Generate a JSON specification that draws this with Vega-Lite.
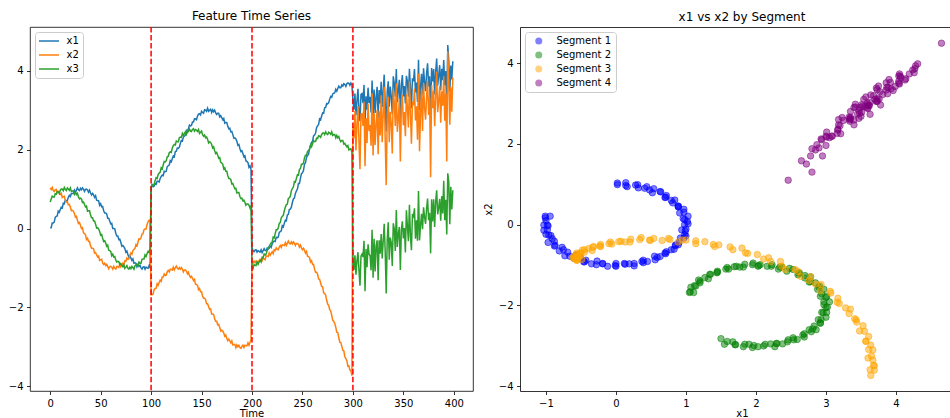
{
"$schema": "https://vega.github.io/schema/vega-lite/v6.json",
"padding": {"left": 7, "top": 9, "right": 0, "bottom": 0},
"background": "white",
"bounds": "flush",
"spacing": 47,
"resolve": {"scale": {"color": "independent"}, "legend": {"color": "independent"}},
"config": {
  "font": "DejaVu Sans",
  "view": {"stroke": "black", "strokeWidth": 0.8},
  "axis": {"domain": false, "domainColor": "black", "domainWidth": 0.8, "grid": false, "tickColor": "black", "tickWidth": 0.8, "tickSize": 3.5, "labelPadding": 3.5, "labelFont": "DejaVu Sans", "labelFontSize": 10, "labelColor": "black", "titleFont": "DejaVu Sans", "titleFontSize": 10, "titleFontWeight": "normal", "titleColor": "black", "labelFlush": false, "labelOverlap": false},
  "title": {"font": "DejaVu Sans", "fontSize": 12, "fontWeight": "normal", "color": "black", "offset": 3, "anchor": "middle", "frame": "group"},
  "legend": {"labelFont": "DejaVu Sans", "labelFontSize": 10, "labelColor": "black", "padding": 4, "rowPadding": 4, "strokeColor": "#cccccc", "fillColor": "rgba(255,255,255,0.8)", "cornerRadius": 3, "orient": "top-left", "offset": 5}
},
"datasets": {
"cp": [{"cp": 100}, {"cp": 200}, {"cp": 300}],
"ts": [
{"t":0,"x1":0.02,"x2":1.03,"x3":0.67,"seg":"Segment 1"},
{"t":1,"x1":0.02,"x2":0.99,"x3":0.75,"seg":"Segment 1"},
{"t":2,"x1":0.14,"x2":1.04,"x3":0.82,"seg":"Segment 1"},
{"t":3,"x1":0.14,"x2":0.97,"x3":0.80,"seg":"Segment 1"},
{"t":4,"x1":0.16,"x2":0.94,"x3":0.80,"seg":"Segment 1"},
{"t":5,"x1":0.28,"x2":0.98,"x3":0.88,"seg":"Segment 1"},
{"t":6,"x1":0.31,"x2":0.99,"x3":0.87,"seg":"Segment 1"},
{"t":7,"x1":0.32,"x2":0.91,"x3":0.94,"seg":"Segment 1"},
{"t":8,"x1":0.44,"x2":0.94,"x3":0.93,"seg":"Segment 1"},
{"t":9,"x1":0.41,"x2":0.90,"x3":0.89,"seg":"Segment 1"},
{"t":10,"x1":0.48,"x2":0.86,"x3":0.97,"seg":"Segment 1"},
{"t":11,"x1":0.54,"x2":0.89,"x3":1.00,"seg":"Segment 1"},
{"t":12,"x1":0.52,"x2":0.79,"x3":1.00,"seg":"Segment 1"},
{"t":13,"x1":0.64,"x2":0.81,"x3":0.96,"seg":"Segment 1"},
{"t":14,"x1":0.63,"x2":0.82,"x3":1.04,"seg":"Segment 1"},
{"t":15,"x1":0.72,"x2":0.72,"x3":0.99,"seg":"Segment 1"},
{"t":16,"x1":0.70,"x2":0.67,"x3":0.96,"seg":"Segment 1"},
{"t":17,"x1":0.71,"x2":0.68,"x3":1.03,"seg":"Segment 1"},
{"t":18,"x1":0.79,"x2":0.60,"x3":1.00,"seg":"Segment 1"},
{"t":19,"x1":0.84,"x2":0.61,"x3":0.97,"seg":"Segment 1"},
{"t":20,"x1":0.81,"x2":0.54,"x3":1.03,"seg":"Segment 1"},
{"t":21,"x1":0.89,"x2":0.45,"x3":0.94,"seg":"Segment 1"},
{"t":22,"x1":0.89,"x2":0.46,"x3":0.95,"seg":"Segment 1"},
{"t":23,"x1":0.89,"x2":0.44,"x3":0.95,"seg":"Segment 1"},
{"t":24,"x1":0.97,"x2":0.38,"x3":0.87,"seg":"Segment 1"},
{"t":25,"x1":0.91,"x2":0.29,"x3":0.92,"seg":"Segment 1"},
{"t":26,"x1":0.97,"x2":0.31,"x3":0.86,"seg":"Segment 1"},
{"t":27,"x1":1.03,"x2":0.21,"x3":0.89,"seg":"Segment 1"},
{"t":28,"x1":0.98,"x2":0.13,"x3":0.80,"seg":"Segment 1"},
{"t":29,"x1":0.96,"x2":0.15,"x3":0.75,"seg":"Segment 1"},
{"t":30,"x1":1.02,"x2":0.08,"x3":0.77,"seg":"Segment 1"},
{"t":31,"x1":0.98,"x2":0.00,"x3":0.75,"seg":"Segment 1"},
{"t":32,"x1":1.03,"x2":0.02,"x3":0.66,"seg":"Segment 1"},
{"t":33,"x1":1.00,"x2":-0.11,"x3":0.67,"seg":"Segment 1"},
{"t":34,"x1":0.94,"x2":-0.13,"x3":0.61,"seg":"Segment 1"},
{"t":35,"x1":0.99,"x2":-0.16,"x3":0.55,"seg":"Segment 1"},
{"t":36,"x1":1.00,"x2":-0.28,"x3":0.57,"seg":"Segment 1"},
{"t":37,"x1":0.98,"x2":-0.25,"x3":0.44,"seg":"Segment 1"},
{"t":38,"x1":0.92,"x2":-0.33,"x3":0.45,"seg":"Segment 1"},
{"t":39,"x1":0.97,"x2":-0.33,"x3":0.45,"seg":"Segment 1"},
{"t":40,"x1":0.90,"x2":-0.44,"x3":0.34,"seg":"Segment 1"},
{"t":41,"x1":0.85,"x2":-0.50,"x3":0.27,"seg":"Segment 1"},
{"t":42,"x1":0.89,"x2":-0.50,"x3":0.27,"seg":"Segment 1"},
{"t":43,"x1":0.85,"x2":-0.52,"x3":0.19,"seg":"Segment 1"},
{"t":44,"x1":0.79,"x2":-0.62,"x3":0.19,"seg":"Segment 1"},
{"t":45,"x1":0.83,"x2":-0.61,"x3":0.11,"seg":"Segment 1"},
{"t":46,"x1":0.72,"x2":-0.67,"x3":0.01,"seg":"Segment 1"},
{"t":47,"x1":0.71,"x2":-0.72,"x3":0.02,"seg":"Segment 1"},
{"t":48,"x1":0.70,"x2":-0.70,"x3":-0.01,"seg":"Segment 1"},
{"t":49,"x1":0.59,"x2":-0.81,"x3":-0.07,"seg":"Segment 1"},
{"t":50,"x1":0.63,"x2":-0.79,"x3":-0.17,"seg":"Segment 1"},
{"t":51,"x1":0.55,"x2":-0.78,"x3":-0.15,"seg":"Segment 1"},
{"t":52,"x1":0.56,"x2":-0.87,"x3":-0.25,"seg":"Segment 1"},
{"t":53,"x1":0.45,"x2":-0.91,"x3":-0.33,"seg":"Segment 1"},
{"t":54,"x1":0.39,"x2":-0.88,"x3":-0.31,"seg":"Segment 1"},
{"t":55,"x1":0.39,"x2":-0.94,"x3":-0.37,"seg":"Segment 1"},
{"t":56,"x1":0.37,"x2":-0.91,"x3":-0.45,"seg":"Segment 1"},
{"t":57,"x1":0.26,"x2":-0.96,"x3":-0.42,"seg":"Segment 1"},
{"t":58,"x1":0.26,"x2":-1.02,"x3":-0.55,"seg":"Segment 1"},
{"t":59,"x1":0.19,"x2":-0.97,"x3":-0.56,"seg":"Segment 1"},
{"t":60,"x1":0.12,"x2":-0.96,"x3":-0.58,"seg":"Segment 1"},
{"t":61,"x1":0.13,"x2":-0.98,"x3":-0.69,"seg":"Segment 1"},
{"t":62,"x1":0.00,"x2":-1.03,"x3":-0.65,"seg":"Segment 1"},
{"t":63,"x1":0.00,"x2":-0.96,"x3":-0.72,"seg":"Segment 1"},
{"t":64,"x1":-0.01,"x2":-1.01,"x3":-0.71,"seg":"Segment 1"},
{"t":65,"x1":-0.12,"x2":-1.03,"x3":-0.80,"seg":"Segment 1"},
{"t":66,"x1":-0.19,"x2":-0.96,"x3":-0.85,"seg":"Segment 1"},
{"t":67,"x1":-0.19,"x2":-0.97,"x3":-0.83,"seg":"Segment 1"},
{"t":68,"x1":-0.28,"x2":-0.99,"x3":-0.84,"seg":"Segment 1"},
{"t":69,"x1":-0.27,"x2":-0.90,"x3":-0.92,"seg":"Segment 1"},
{"t":70,"x1":-0.35,"x2":-0.97,"x3":-0.89,"seg":"Segment 1"},
{"t":71,"x1":-0.45,"x2":-0.92,"x3":-0.93,"seg":"Segment 1"},
{"t":72,"x1":-0.43,"x2":-0.88,"x3":-0.97,"seg":"Segment 1"},
{"t":73,"x1":-0.46,"x2":-0.92,"x3":-0.92,"seg":"Segment 1"},
{"t":74,"x1":-0.51,"x2":-0.82,"x3":-1.01,"seg":"Segment 1"},
{"t":75,"x1":-0.60,"x2":-0.83,"x3":-0.98,"seg":"Segment 1"},
{"t":76,"x1":-0.57,"x2":-0.75,"x3":-0.94,"seg":"Segment 1"},
{"t":77,"x1":-0.66,"x2":-0.78,"x3":-1.01,"seg":"Segment 1"},
{"t":78,"x1":-0.73,"x2":-0.77,"x3":-1.03,"seg":"Segment 1"},
{"t":79,"x1":-0.69,"x2":-0.68,"x3":-0.98,"seg":"Segment 1"},
{"t":80,"x1":-0.75,"x2":-0.62,"x3":-1.02,"seg":"Segment 1"},
{"t":81,"x1":-0.81,"x2":-0.65,"x3":-0.96,"seg":"Segment 1"},
{"t":82,"x1":-0.77,"x2":-0.56,"x3":-0.99,"seg":"Segment 1"},
{"t":83,"x1":-0.88,"x2":-0.53,"x3":-1.03,"seg":"Segment 1"},
{"t":84,"x1":-0.87,"x2":-0.51,"x3":-0.95,"seg":"Segment 1"},
{"t":85,"x1":-0.88,"x2":-0.41,"x3":-0.92,"seg":"Segment 1"},
{"t":86,"x1":-0.97,"x2":-0.44,"x3":-0.91,"seg":"Segment 1"},
{"t":87,"x1":-0.91,"x2":-0.35,"x3":-0.94,"seg":"Segment 1"},
{"t":88,"x1":-0.96,"x2":-0.26,"x3":-0.85,"seg":"Segment 1"},
{"t":89,"x1":-0.93,"x2":-0.27,"x3":-0.88,"seg":"Segment 1"},
{"t":90,"x1":-1.00,"x2":-0.24,"x3":-0.88,"seg":"Segment 1"},
{"t":91,"x1":-1.03,"x2":-0.14,"x3":-0.78,"seg":"Segment 1"},
{"t":92,"x1":-0.98,"x2":-0.13,"x3":-0.77,"seg":"Segment 1"},
{"t":93,"x1":-0.97,"x2":-0.03,"x3":-0.77,"seg":"Segment 1"},
{"t":94,"x1":-1.03,"x2":-0.01,"x3":-0.67,"seg":"Segment 1"},
{"t":95,"x1":-0.98,"x2":-0.01,"x3":-0.71,"seg":"Segment 1"},
{"t":96,"x1":-1.00,"x2":0.10,"x3":-0.64,"seg":"Segment 1"},
{"t":97,"x1":-1.01,"x2":0.17,"x3":-0.58,"seg":"Segment 1"},
{"t":98,"x1":-0.94,"x2":0.21,"x3":-0.61,"seg":"Segment 1"},
{"t":99,"x1":-1.01,"x2":0.21,"x3":-0.49,"seg":"Segment 1"},
{"t":100,"x1":1.05,"x2":-1.68,"x3":1.01,"seg":"Segment 2"},
{"t":101,"x1":1.11,"x2":-1.68,"x3":1.11,"seg":"Segment 2"},
{"t":102,"x1":1.06,"x2":-1.66,"x3":1.09,"seg":"Segment 2"},
{"t":103,"x1":1.07,"x2":-1.55,"x3":1.12,"seg":"Segment 2"},
{"t":104,"x1":1.14,"x2":-1.52,"x3":1.22,"seg":"Segment 2"},
{"t":105,"x1":1.12,"x2":-1.51,"x3":1.29,"seg":"Segment 2"},
{"t":106,"x1":1.20,"x2":-1.40,"x3":1.27,"seg":"Segment 2"},
{"t":107,"x1":1.20,"x2":-1.44,"x3":1.37,"seg":"Segment 2"},
{"t":108,"x1":1.18,"x2":-1.37,"x3":1.40,"seg":"Segment 2"},
{"t":109,"x1":1.27,"x2":-1.31,"x3":1.43,"seg":"Segment 2"},
{"t":110,"x1":1.32,"x2":-1.34,"x3":1.54,"seg":"Segment 2"},
{"t":111,"x1":1.35,"x2":-1.23,"x3":1.51,"seg":"Segment 2"},
{"t":112,"x1":1.34,"x2":-1.23,"x3":1.61,"seg":"Segment 2"},
{"t":113,"x1":1.45,"x2":-1.15,"x3":1.70,"seg":"Segment 2"},
{"t":114,"x1":1.44,"x2":-1.19,"x3":1.69,"seg":"Segment 2"},
{"t":115,"x1":1.45,"x2":-1.18,"x3":1.72,"seg":"Segment 2"},
{"t":116,"x1":1.57,"x2":-1.10,"x3":1.82,"seg":"Segment 2"},
{"t":117,"x1":1.59,"x2":-1.06,"x3":1.83,"seg":"Segment 2"},
{"t":118,"x1":1.61,"x2":-1.10,"x3":1.92,"seg":"Segment 2"},
{"t":119,"x1":1.72,"x2":-1.03,"x3":1.94,"seg":"Segment 2"},
{"t":120,"x1":1.69,"x2":-1.04,"x3":1.93,"seg":"Segment 2"},
{"t":121,"x1":1.77,"x2":-1.05,"x3":2.04,"seg":"Segment 2"},
{"t":122,"x1":1.84,"x2":-0.98,"x3":2.10,"seg":"Segment 2"},
{"t":123,"x1":1.82,"x2":-1.05,"x3":2.13,"seg":"Segment 2"},
{"t":124,"x1":1.95,"x2":-0.99,"x3":2.12,"seg":"Segment 2"},
{"t":125,"x1":1.96,"x2":-0.95,"x3":2.22,"seg":"Segment 2"},
{"t":126,"x1":2.04,"x2":-1.01,"x3":2.20,"seg":"Segment 2"},
{"t":127,"x1":2.03,"x2":-1.03,"x3":2.20,"seg":"Segment 2"},
{"t":128,"x1":2.06,"x2":-0.99,"x3":2.30,"seg":"Segment 2"},
{"t":129,"x1":2.16,"x2":-1.03,"x3":2.32,"seg":"Segment 2"},
{"t":130,"x1":2.23,"x2":-0.99,"x3":2.31,"seg":"Segment 2"},
{"t":131,"x1":2.22,"x2":-1.03,"x3":2.41,"seg":"Segment 2"},
{"t":132,"x1":2.32,"x2":-1.10,"x3":2.36,"seg":"Segment 2"},
{"t":133,"x1":2.34,"x2":-1.05,"x3":2.41,"seg":"Segment 2"},
{"t":134,"x1":2.37,"x2":-1.05,"x3":2.45,"seg":"Segment 2"},
{"t":135,"x1":2.48,"x2":-1.08,"x3":2.39,"seg":"Segment 2"},
{"t":136,"x1":2.44,"x2":-1.15,"x3":2.49,"seg":"Segment 2"},
{"t":137,"x1":2.53,"x2":-1.11,"x3":2.46,"seg":"Segment 2"},
{"t":138,"x1":2.62,"x2":-1.19,"x3":2.52,"seg":"Segment 2"},
{"t":139,"x1":2.60,"x2":-1.24,"x3":2.47,"seg":"Segment 2"},
{"t":140,"x1":2.61,"x2":-1.21,"x3":2.46,"seg":"Segment 2"},
{"t":141,"x1":2.70,"x2":-1.26,"x3":2.51,"seg":"Segment 2"},
{"t":142,"x1":2.70,"x2":-1.32,"x3":2.53,"seg":"Segment 2"},
{"t":143,"x1":2.78,"x2":-1.29,"x3":2.47,"seg":"Segment 2"},
{"t":144,"x1":2.78,"x2":-1.41,"x3":2.51,"seg":"Segment 2"},
{"t":145,"x1":2.76,"x2":-1.42,"x3":2.49,"seg":"Segment 2"},
{"t":146,"x1":2.85,"x2":-1.44,"x3":2.46,"seg":"Segment 2"},
{"t":147,"x1":2.90,"x2":-1.55,"x3":2.51,"seg":"Segment 2"},
{"t":148,"x1":2.91,"x2":-1.52,"x3":2.41,"seg":"Segment 2"},
{"t":149,"x1":2.88,"x2":-1.60,"x3":2.44,"seg":"Segment 2"},
{"t":150,"x1":2.97,"x2":-1.60,"x3":2.47,"seg":"Segment 2"},
{"t":151,"x1":2.94,"x2":-1.71,"x3":2.38,"seg":"Segment 2"},
{"t":152,"x1":2.92,"x2":-1.77,"x3":2.34,"seg":"Segment 2"},
{"t":153,"x1":3.01,"x2":-1.77,"x3":2.37,"seg":"Segment 2"},
{"t":154,"x1":3.00,"x2":-1.80,"x3":2.30,"seg":"Segment 2"},
{"t":155,"x1":2.97,"x2":-1.91,"x3":2.32,"seg":"Segment 2"},
{"t":156,"x1":3.05,"x2":-1.91,"x3":2.26,"seg":"Segment 2"},
{"t":157,"x1":2.97,"x2":-1.98,"x3":2.17,"seg":"Segment 2"},
{"t":158,"x1":3.00,"x2":-2.05,"x3":2.20,"seg":"Segment 2"},
{"t":159,"x1":3.02,"x2":-2.04,"x3":2.18,"seg":"Segment 2"},
{"t":160,"x1":2.94,"x2":-2.17,"x3":2.13,"seg":"Segment 2"},
{"t":161,"x1":3.01,"x2":-2.17,"x3":2.04,"seg":"Segment 2"},
{"t":162,"x1":2.96,"x2":-2.18,"x3":2.07,"seg":"Segment 2"},
{"t":163,"x1":3.00,"x2":-2.29,"x3":1.97,"seg":"Segment 2"},
{"t":164,"x1":2.93,"x2":-2.35,"x3":1.90,"seg":"Segment 2"},
{"t":165,"x1":2.89,"x2":-2.35,"x3":1.93,"seg":"Segment 2"},
{"t":166,"x1":2.92,"x2":-2.44,"x3":1.86,"seg":"Segment 2"},
{"t":167,"x1":2.92,"x2":-2.43,"x3":1.78,"seg":"Segment 2"},
{"t":168,"x1":2.83,"x2":-2.51,"x3":1.80,"seg":"Segment 2"},
{"t":169,"x1":2.86,"x2":-2.60,"x3":1.68,"seg":"Segment 2"},
{"t":170,"x1":2.81,"x2":-2.58,"x3":1.66,"seg":"Segment 2"},
{"t":171,"x1":2.76,"x2":-2.60,"x3":1.63,"seg":"Segment 2"},
{"t":172,"x1":2.79,"x2":-2.65,"x3":1.51,"seg":"Segment 2"},
{"t":173,"x1":2.67,"x2":-2.73,"x3":1.54,"seg":"Segment 2"},
{"t":174,"x1":2.69,"x2":-2.70,"x3":1.45,"seg":"Segment 2"},
{"t":175,"x1":2.69,"x2":-2.78,"x3":1.45,"seg":"Segment 2"},
{"t":176,"x1":2.59,"x2":-2.84,"x3":1.34,"seg":"Segment 2"},
{"t":177,"x1":2.53,"x2":-2.80,"x3":1.27,"seg":"Segment 2"},
{"t":178,"x1":2.54,"x2":-2.85,"x3":1.27,"seg":"Segment 2"},
{"t":179,"x1":2.45,"x2":-2.90,"x3":1.24,"seg":"Segment 2"},
{"t":180,"x1":2.46,"x2":-2.85,"x3":1.13,"seg":"Segment 2"},
{"t":181,"x1":2.38,"x2":-2.95,"x3":1.14,"seg":"Segment 2"},
{"t":182,"x1":2.29,"x2":-2.94,"x3":1.07,"seg":"Segment 2"},
{"t":183,"x1":2.30,"x2":-2.94,"x3":1.01,"seg":"Segment 2"},
{"t":184,"x1":2.27,"x2":-3.02,"x3":1.02,"seg":"Segment 2"},
{"t":185,"x1":2.21,"x2":-2.95,"x3":0.90,"seg":"Segment 2"},
{"t":186,"x1":2.11,"x2":-3.00,"x3":0.91,"seg":"Segment 2"},
{"t":187,"x1":2.13,"x2":-2.96,"x3":0.91,"seg":"Segment 2"},
{"t":188,"x1":2.03,"x2":-3.02,"x3":0.81,"seg":"Segment 2"},
{"t":189,"x1":1.95,"x2":-3.04,"x3":0.76,"seg":"Segment 2"},
{"t":190,"x1":1.97,"x2":-2.99,"x3":0.77,"seg":"Segment 2"},
{"t":191,"x1":1.90,"x2":-2.96,"x3":0.70,"seg":"Segment 2"},
{"t":192,"x1":1.82,"x2":-3.02,"x3":0.72,"seg":"Segment 2"},
{"t":193,"x1":1.84,"x2":-2.96,"x3":0.66,"seg":"Segment 2"},
{"t":194,"x1":1.71,"x2":-2.97,"x3":0.59,"seg":"Segment 2"},
{"t":195,"x1":1.70,"x2":-2.97,"x3":0.62,"seg":"Segment 2"},
{"t":196,"x1":1.67,"x2":-2.90,"x3":0.62,"seg":"Segment 2"},
{"t":197,"x1":1.55,"x2":-2.96,"x3":0.59,"seg":"Segment 2"},
{"t":198,"x1":1.59,"x2":-2.89,"x3":0.52,"seg":"Segment 2"},
{"t":199,"x1":1.50,"x2":-2.82,"x3":0.58,"seg":"Segment 2"},
{"t":200,"x1":-0.49,"x2":-0.86,"x3":-0.98,"seg":"Segment 3"},
{"t":201,"x1":-0.56,"x2":-0.88,"x3":-1.01,"seg":"Segment 3"},
{"t":202,"x1":-0.59,"x2":-0.83,"x3":-0.92,"seg":"Segment 3"},
{"t":203,"x1":-0.55,"x2":-0.87,"x3":-0.93,"seg":"Segment 3"},
{"t":204,"x1":-0.54,"x2":-0.82,"x3":-0.94,"seg":"Segment 3"},
{"t":205,"x1":-0.60,"x2":-0.84,"x3":-0.85,"seg":"Segment 3"},
{"t":206,"x1":-0.56,"x2":-0.88,"x3":-0.91,"seg":"Segment 3"},
{"t":207,"x1":-0.58,"x2":-0.81,"x3":-0.85,"seg":"Segment 3"},
{"t":208,"x1":-0.60,"x2":-0.78,"x3":-0.81,"seg":"Segment 3"},
{"t":209,"x1":-0.54,"x2":-0.78,"x3":-0.85,"seg":"Segment 3"},
{"t":210,"x1":-0.61,"x2":-0.82,"x3":-0.73,"seg":"Segment 3"},
{"t":211,"x1":-0.56,"x2":-0.74,"x3":-0.74,"seg":"Segment 3"},
{"t":212,"x1":-0.51,"x2":-0.77,"x3":-0.65,"seg":"Segment 3"},
{"t":213,"x1":-0.56,"x2":-0.79,"x3":-0.67,"seg":"Segment 3"},
{"t":214,"x1":-0.56,"x2":-0.70,"x3":-0.65,"seg":"Segment 3"},
{"t":215,"x1":-0.50,"x2":-0.70,"x3":-0.56,"seg":"Segment 3"},
{"t":216,"x1":-0.52,"x2":-0.71,"x3":-0.49,"seg":"Segment 3"},
{"t":217,"x1":-0.45,"x2":-0.62,"x3":-0.50,"seg":"Segment 3"},
{"t":218,"x1":-0.45,"x2":-0.68,"x3":-0.40,"seg":"Segment 3"},
{"t":219,"x1":-0.48,"x2":-0.63,"x3":-0.37,"seg":"Segment 3"},
{"t":220,"x1":-0.39,"x2":-0.59,"x3":-0.34,"seg":"Segment 3"},
{"t":221,"x1":-0.34,"x2":-0.64,"x3":-0.22,"seg":"Segment 3"},
{"t":222,"x1":-0.32,"x2":-0.54,"x3":-0.24,"seg":"Segment 3"},
{"t":223,"x1":-0.33,"x2":-0.56,"x3":-0.13,"seg":"Segment 3"},
{"t":224,"x1":-0.22,"x2":-0.49,"x3":-0.03,"seg":"Segment 3"},
{"t":225,"x1":-0.23,"x2":-0.53,"x3":-0.03,"seg":"Segment 3"},
{"t":226,"x1":-0.22,"x2":-0.54,"x3":0.01,"seg":"Segment 3"},
{"t":227,"x1":-0.10,"x2":-0.47,"x3":0.13,"seg":"Segment 3"},
{"t":228,"x1":-0.08,"x2":-0.43,"x3":0.15,"seg":"Segment 3"},
{"t":229,"x1":-0.06,"x2":-0.48,"x3":0.27,"seg":"Segment 3"},
{"t":230,"x1":0.07,"x2":-0.41,"x3":0.31,"seg":"Segment 3"},
{"t":231,"x1":0.04,"x2":-0.42,"x3":0.33,"seg":"Segment 3"},
{"t":232,"x1":0.13,"x2":-0.43,"x3":0.45,"seg":"Segment 3"},
{"t":233,"x1":0.21,"x2":-0.36,"x3":0.54,"seg":"Segment 3"},
{"t":234,"x1":0.20,"x2":-0.43,"x3":0.60,"seg":"Segment 3"},
{"t":235,"x1":0.34,"x2":-0.37,"x3":0.62,"seg":"Segment 3"},
{"t":236,"x1":0.36,"x2":-0.32,"x3":0.76,"seg":"Segment 3"},
{"t":237,"x1":0.48,"x2":-0.38,"x3":0.78,"seg":"Segment 3"},
{"t":238,"x1":0.49,"x2":-0.39,"x3":0.82,"seg":"Segment 3"},
{"t":239,"x1":0.54,"x2":-0.34,"x3":0.96,"seg":"Segment 3"},
{"t":240,"x1":0.66,"x2":-0.39,"x3":1.01,"seg":"Segment 3"},
{"t":241,"x1":0.75,"x2":-0.34,"x3":1.05,"seg":"Segment 3"},
{"t":242,"x1":0.77,"x2":-0.37,"x3":1.19,"seg":"Segment 3"},
{"t":243,"x1":0.89,"x2":-0.43,"x3":1.18,"seg":"Segment 3"},
{"t":244,"x1":0.95,"x2":-0.38,"x3":1.27,"seg":"Segment 3"},
{"t":245,"x1":1.00,"x2":-0.38,"x3":1.36,"seg":"Segment 3"},
{"t":246,"x1":1.14,"x2":-0.40,"x3":1.35,"seg":"Segment 3"},
{"t":247,"x1":1.14,"x2":-0.47,"x3":1.50,"seg":"Segment 3"},
{"t":248,"x1":1.27,"x2":-0.42,"x3":1.52,"seg":"Segment 3"},
{"t":249,"x1":1.39,"x2":-0.49,"x3":1.63,"seg":"Segment 3"},
{"t":250,"x1":1.41,"x2":-0.54,"x3":1.63,"seg":"Segment 3"},
{"t":251,"x1":1.47,"x2":-0.50,"x3":1.66,"seg":"Segment 3"},
{"t":252,"x1":1.63,"x2":-0.55,"x3":1.79,"seg":"Segment 3"},
{"t":253,"x1":1.67,"x2":-0.62,"x3":1.86,"seg":"Segment 3"},
{"t":254,"x1":1.80,"x2":-0.58,"x3":1.86,"seg":"Segment 3"},
{"t":255,"x1":1.85,"x2":-0.70,"x3":1.95,"seg":"Segment 3"},
{"t":256,"x1":1.88,"x2":-0.71,"x3":1.98,"seg":"Segment 3"},
{"t":257,"x1":2.02,"x2":-0.74,"x3":2.01,"seg":"Segment 3"},
{"t":258,"x1":2.11,"x2":-0.85,"x3":2.11,"seg":"Segment 3"},
{"t":259,"x1":2.18,"x2":-0.82,"x3":2.07,"seg":"Segment 3"},
{"t":260,"x1":2.21,"x2":-0.91,"x3":2.15,"seg":"Segment 3"},
{"t":261,"x1":2.35,"x2":-0.91,"x3":2.23,"seg":"Segment 3"},
{"t":262,"x1":2.37,"x2":-1.03,"x3":2.20,"seg":"Segment 3"},
{"t":263,"x1":2.42,"x2":-1.11,"x3":2.21,"seg":"Segment 3"},
{"t":264,"x1":2.56,"x2":-1.11,"x3":2.29,"seg":"Segment 3"},
{"t":265,"x1":2.60,"x2":-1.16,"x3":2.28,"seg":"Segment 3"},
{"t":266,"x1":2.64,"x2":-1.28,"x3":2.35,"seg":"Segment 3"},
{"t":267,"x1":2.78,"x2":-1.29,"x3":2.34,"seg":"Segment 3"},
{"t":268,"x1":2.76,"x2":-1.38,"x3":2.31,"seg":"Segment 3"},
{"t":269,"x1":2.85,"x2":-1.47,"x3":2.38,"seg":"Segment 3"},
{"t":270,"x1":2.93,"x2":-1.48,"x3":2.42,"seg":"Segment 3"},
{"t":271,"x1":2.92,"x2":-1.63,"x3":2.42,"seg":"Segment 3"},
{"t":272,"x1":3.06,"x2":-1.65,"x3":2.38,"seg":"Segment 3"},
{"t":273,"x1":3.07,"x2":-1.69,"x3":2.45,"seg":"Segment 3"},
{"t":274,"x1":3.17,"x2":-1.82,"x3":2.40,"seg":"Segment 3"},
{"t":275,"x1":3.16,"x2":-1.92,"x3":2.38,"seg":"Segment 3"},
{"t":276,"x1":3.19,"x2":-1.95,"x3":2.44,"seg":"Segment 3"},
{"t":277,"x1":3.28,"x2":-2.06,"x3":2.42,"seg":"Segment 3"},
{"t":278,"x1":3.35,"x2":-2.09,"x3":2.39,"seg":"Segment 3"},
{"t":279,"x1":3.33,"x2":-2.20,"x3":2.45,"seg":"Segment 3"},
{"t":280,"x1":3.41,"x2":-2.33,"x3":2.36,"seg":"Segment 3"},
{"t":281,"x1":3.43,"x2":-2.35,"x3":2.38,"seg":"Segment 3"},
{"t":282,"x1":3.44,"x2":-2.41,"x3":2.38,"seg":"Segment 3"},
{"t":283,"x1":3.53,"x2":-2.50,"x3":2.30,"seg":"Segment 3"},
{"t":284,"x1":3.48,"x2":-2.63,"x3":2.36,"seg":"Segment 3"},
{"t":285,"x1":3.55,"x2":-2.64,"x3":2.30,"seg":"Segment 3"},
{"t":286,"x1":3.61,"x2":-2.77,"x3":2.33,"seg":"Segment 3"},
{"t":287,"x1":3.57,"x2":-2.88,"x3":2.25,"seg":"Segment 3"},
{"t":288,"x1":3.57,"x2":-2.89,"x3":2.20,"seg":"Segment 3"},
{"t":289,"x1":3.64,"x2":-2.98,"x3":2.23,"seg":"Segment 3"},
{"t":290,"x1":3.61,"x2":-3.09,"x3":2.23,"seg":"Segment 3"},
{"t":291,"x1":3.67,"x2":-3.10,"x3":2.14,"seg":"Segment 3"},
{"t":292,"x1":3.65,"x2":-3.25,"x3":2.16,"seg":"Segment 3"},
{"t":293,"x1":3.60,"x2":-3.30,"x3":2.11,"seg":"Segment 3"},
{"t":294,"x1":3.67,"x2":-3.35,"x3":2.07,"seg":"Segment 3"},
{"t":295,"x1":3.69,"x2":-3.49,"x3":2.10,"seg":"Segment 3"},
{"t":296,"x1":3.68,"x2":-3.48,"x3":1.99,"seg":"Segment 3"},
{"t":297,"x1":3.63,"x2":-3.59,"x3":2.01,"seg":"Segment 3"},
{"t":298,"x1":3.69,"x2":-3.60,"x3":2.02,"seg":"Segment 3"},
{"t":299,"x1":3.64,"x2":-3.73,"x3":1.93,"seg":"Segment 3"},
{"t":300,"x1":3.25,"x2":2.58,"x3":-0.92,"seg":"Segment 4"},
{"t":301,"x1":3.01,"x2":2.29,"x3":-1.05,"seg":"Segment 4"},
{"t":302,"x1":3.42,"x2":2.98,"x3":-0.68,"seg":"Segment 4"},
{"t":303,"x1":2.87,"x2":1.98,"x3":-1.17,"seg":"Segment 4"},
{"t":304,"x1":3.23,"x2":2.65,"x3":-0.82,"seg":"Segment 4"},
{"t":305,"x1":3.54,"x2":3.10,"x3":-0.60,"seg":"Segment 4"},
{"t":306,"x1":3.00,"x2":2.19,"x3":-1.06,"seg":"Segment 4"},
{"t":307,"x1":2.72,"x2":1.50,"x3":-1.45,"seg":"Segment 4"},
{"t":308,"x1":3.40,"x2":2.90,"x3":-0.70,"seg":"Segment 4"},
{"t":309,"x1":3.42,"x2":2.91,"x3":-0.65,"seg":"Segment 4"},
{"t":310,"x1":3.18,"x2":2.60,"x3":-0.72,"seg":"Segment 4"},
{"t":311,"x1":3.64,"x2":3.21,"x3":-0.31,"seg":"Segment 4"},
{"t":312,"x1":2.65,"x2":1.58,"x3":-1.59,"seg":"Segment 4"},
{"t":313,"x1":3.35,"x2":2.80,"x3":-0.52,"seg":"Segment 4"},
{"t":314,"x1":3.01,"x2":2.17,"x3":-0.98,"seg":"Segment 4"},
{"t":315,"x1":3.57,"x2":3.16,"x3":-0.40,"seg":"Segment 4"},
{"t":316,"x1":3.18,"x2":2.47,"x3":-0.65,"seg":"Segment 4"},
{"t":317,"x1":3.34,"x2":2.62,"x3":-0.69,"seg":"Segment 4"},
{"t":318,"x1":2.94,"x2":2.10,"x3":-1.06,"seg":"Segment 4"},
{"t":319,"x1":3.75,"x2":3.43,"x3":-0.03,"seg":"Segment 4"},
{"t":320,"x1":2.85,"x2":1.85,"x3":-1.25,"seg":"Segment 4"},
{"t":321,"x1":3.52,"x2":2.93,"x3":-0.26,"seg":"Segment 4"},
{"t":322,"x1":2.93,"x2":2.12,"x3":-1.09,"seg":"Segment 4"},
{"t":323,"x1":3.33,"x2":2.66,"x3":-0.44,"seg":"Segment 4"},
{"t":324,"x1":3.59,"x2":3.01,"x3":-0.30,"seg":"Segment 4"},
{"t":325,"x1":2.80,"x2":1.88,"x3":-1.31,"seg":"Segment 4"},
{"t":326,"x1":3.51,"x2":2.97,"x3":-0.30,"seg":"Segment 4"},
{"t":327,"x1":3.17,"x2":2.36,"x3":-0.64,"seg":"Segment 4"},
{"t":328,"x1":3.72,"x2":3.38,"x3":-0.14,"seg":"Segment 4"},
{"t":329,"x1":3.08,"x2":2.19,"x3":-0.76,"seg":"Segment 4"},
{"t":330,"x1":3.49,"x2":2.90,"x3":-0.32,"seg":"Segment 4"},
{"t":331,"x1":3.90,"x2":3.59,"x3":0.12,"seg":"Segment 4"},
{"t":332,"x1":3.16,"x2":2.26,"x3":-0.59,"seg":"Segment 4"},
{"t":333,"x1":2.46,"x2":1.10,"x3":-1.65,"seg":"Segment 4"},
{"t":334,"x1":3.47,"x2":2.83,"x3":-0.28,"seg":"Segment 4"},
{"t":335,"x1":3.73,"x2":3.34,"x3":0.16,"seg":"Segment 4"},
{"t":336,"x1":3.09,"x2":2.19,"x3":-0.79,"seg":"Segment 4"},
{"t":337,"x1":3.60,"x2":2.96,"x3":-0.23,"seg":"Segment 4"},
{"t":338,"x1":3.35,"x2":2.66,"x3":-0.36,"seg":"Segment 4"},
{"t":339,"x1":2.90,"x2":1.90,"x3":-0.95,"seg":"Segment 4"},
{"t":340,"x1":3.86,"x2":3.51,"x3":0.13,"seg":"Segment 4"},
{"t":341,"x1":3.68,"x2":3.19,"x3":-0.01,"seg":"Segment 4"},
{"t":342,"x1":3.34,"x2":2.60,"x3":-0.57,"seg":"Segment 4"},
{"t":343,"x1":4.04,"x2":3.68,"x3":0.47,"seg":"Segment 4"},
{"t":344,"x1":3.20,"x2":2.45,"x3":-0.47,"seg":"Segment 4"},
{"t":345,"x1":3.51,"x2":2.78,"x3":-0.13,"seg":"Segment 4"},
{"t":346,"x1":3.77,"x2":3.29,"x3":0.04,"seg":"Segment 4"},
{"t":347,"x1":2.78,"x2":1.70,"x3":-1.05,"seg":"Segment 4"},
{"t":348,"x1":3.63,"x2":3.02,"x3":-0.04,"seg":"Segment 4"},
{"t":349,"x1":3.89,"x2":3.39,"x3":0.18,"seg":"Segment 4"},
{"t":350,"x1":3.35,"x2":2.62,"x3":-0.25,"seg":"Segment 4"},
{"t":351,"x1":3.61,"x2":2.95,"x3":0.01,"seg":"Segment 4"},
{"t":352,"x1":3.17,"x2":2.34,"x3":-0.61,"seg":"Segment 4"},
{"t":353,"x1":3.87,"x2":3.40,"x3":0.46,"seg":"Segment 4"},
{"t":354,"x1":3.73,"x2":3.07,"x3":0.06,"seg":"Segment 4"},
{"t":355,"x1":3.34,"x2":2.56,"x3":-0.32,"seg":"Segment 4"},
{"t":356,"x1":4.05,"x2":3.73,"x3":0.60,"seg":"Segment 4"},
{"t":357,"x1":3.56,"x2":2.92,"x3":-0.19,"seg":"Segment 4"},
{"t":358,"x1":3.05,"x2":2.15,"x3":-0.55,"seg":"Segment 4"},
{"t":359,"x1":3.81,"x2":3.22,"x3":0.37,"seg":"Segment 4"},
{"t":360,"x1":3.73,"x2":3.12,"x3":0.31,"seg":"Segment 4"},
{"t":361,"x1":4.04,"x2":3.55,"x3":0.51,"seg":"Segment 4"},
{"t":362,"x1":3.45,"x2":2.74,"x3":-0.26,"seg":"Segment 4"},
{"t":363,"x1":3.70,"x2":3.10,"x3":0.21,"seg":"Segment 4"},
{"t":364,"x1":3.21,"x2":2.25,"x3":-0.31,"seg":"Segment 4"},
{"t":365,"x1":4.28,"x2":3.93,"x3":0.95,"seg":"Segment 4"},
{"t":366,"x1":3.00,"x2":1.96,"x3":-0.30,"seg":"Segment 4"},
{"t":367,"x1":3.59,"x2":2.88,"x3":0.07,"seg":"Segment 4"},
{"t":368,"x1":3.92,"x2":3.52,"x3":0.37,"seg":"Segment 4"},
{"t":369,"x1":3.40,"x2":2.47,"x3":-0.02,"seg":"Segment 4"},
{"t":370,"x1":4.06,"x2":3.68,"x3":0.54,"seg":"Segment 4"},
{"t":371,"x1":3.72,"x2":3.05,"x3":0.29,"seg":"Segment 4"},
{"t":372,"x1":3.48,"x2":2.76,"x3":0.12,"seg":"Segment 4"},
{"t":373,"x1":3.93,"x2":3.36,"x3":0.50,"seg":"Segment 4"},
{"t":374,"x1":4.19,"x2":3.73,"x3":0.76,"seg":"Segment 4"},
{"t":375,"x1":3.60,"x2":2.88,"x3":0.21,"seg":"Segment 4"},
{"t":376,"x1":3.86,"x2":3.33,"x3":0.40,"seg":"Segment 4"},
{"t":377,"x1":2.80,"x2":1.30,"x3":-0.63,"seg":"Segment 4"},
{"t":378,"x1":4.07,"x2":3.64,"x3":0.74,"seg":"Segment 4"},
{"t":379,"x1":3.73,"x2":3.05,"x3":0.18,"seg":"Segment 4"},
{"t":380,"x1":4.04,"x2":3.50,"x3":0.74,"seg":"Segment 4"},
{"t":381,"x1":3.40,"x2":2.59,"x3":0.04,"seg":"Segment 4"},
{"t":382,"x1":3.96,"x2":3.32,"x3":0.68,"seg":"Segment 4"},
{"t":383,"x1":4.31,"x2":3.98,"x3":0.97,"seg":"Segment 4"},
{"t":384,"x1":3.62,"x2":2.95,"x3":0.36,"seg":"Segment 4"},
{"t":385,"x1":3.88,"x2":3.24,"x3":0.53,"seg":"Segment 4"},
{"t":386,"x1":4.14,"x2":3.61,"x3":0.75,"seg":"Segment 4"},
{"t":387,"x1":3.50,"x2":2.68,"x3":0.20,"seg":"Segment 4"},
{"t":388,"x1":4.05,"x2":3.48,"x3":0.82,"seg":"Segment 4"},
{"t":389,"x1":3.76,"x2":3.11,"x3":0.38,"seg":"Segment 4"},
{"t":390,"x1":4.27,"x2":3.86,"x3":1.21,"seg":"Segment 4"},
{"t":391,"x1":3.63,"x2":2.73,"x3":0.21,"seg":"Segment 4"},
{"t":392,"x1":3.99,"x2":3.42,"x3":0.73,"seg":"Segment 4"},
{"t":393,"x1":2.95,"x2":1.70,"x3":-0.15,"seg":"Segment 4"},
{"t":394,"x1":4.65,"x2":4.49,"x3":1.40,"seg":"Segment 4"},
{"t":395,"x1":4.26,"x2":3.76,"x3":1.18,"seg":"Segment 4"},
{"t":396,"x1":3.47,"x2":2.63,"x3":0.11,"seg":"Segment 4"},
{"t":397,"x1":4.13,"x2":3.58,"x3":1.06,"seg":"Segment 4"},
{"t":398,"x1":3.78,"x2":2.96,"x3":0.48,"seg":"Segment 4"},
{"t":399,"x1":4.24,"x2":3.83,"x3":0.97,"seg":"Segment 4"}
]
},
"hconcat": [
  {
    "width": 443,
    "height": 364,
    "title": "Feature Time Series",
    "layer": [
      {
        "data": {"name": "ts"},
        "transform": [{"fold": ["x1", "x2", "x3"], "as": ["series", "value"]}],
        "mark": {"type": "line", "strokeWidth": 1.5},
        "encoding": {
          "x": {"field": "t", "type": "quantitative", "scale": {"domain": [-20, 419], "nice": false, "zero": false}, "axis": {"values": [0, 50, 100, 150, 200, 250, 300, 350, 400], "title": "Time", "titlePadding": 0}},
          "y": {"field": "value", "type": "quantitative", "scale": {"domain": [-4.119, 5.108], "nice": false, "zero": false}, "axis": {"values": [-4, -2, 0, 2, 4], "title": null}},
          "color": {"field": "series", "type": "nominal", "scale": {"domain": ["x1", "x2", "x3"], "range": ["#1f77b4", "#ff7f0e", "#2ca02c"]}, "legend": {"title": null, "orient": "top-left", "offset": 5, "symbolType": "M-2.5,0H2.5", "symbolSize": 64, "symbolStrokeWidth": 1.5, "symbolOffset": 5, "labelOffset": 12.5}}
        }
      },
      {
        "data": {"name": "cp"},
        "mark": {"type": "rule", "color": "#ff0000", "strokeWidth": 1.5, "strokeDash": [5.55, 2.4]},
        "encoding": {"x": {"field": "cp", "type": "quantitative"}}
      }
    ]
  },
  {
    "width": 431,
    "height": 364,
    "title": {"text": "x1 vs x2 by Segment", "dx": 6.5},
    "view": {"stroke": null},
    "data": {"name": "ts"},
    "layer": [
      {
        "mark": {"type": "point", "filled": true, "size": 42, "fillOpacity": 0.5, "strokeOpacity": 0.5, "strokeWidth": 1},
        "encoding": {
          "x": {"field": "x1", "type": "quantitative", "scale": {"domain": [-1.371, 4.786], "nice": false, "zero": false}, "axis": {"values": [-1, 0, 1, 2, 3, 4], "title": "x1", "titleX": 222, "titlePadding": 0, "domain": true}},
          "y": {"field": "x2", "type": "quantitative", "scale": {"domain": [-4.116, 4.891], "nice": false, "zero": false}, "axis": {"values": [-4, -2, 0, 2, 4], "title": "x2", "titlePadding": 5, "domain": true}},
          "color": {"field": "seg", "type": "nominal", "scale": {"domain": ["Segment 1", "Segment 2", "Segment 3", "Segment 4"], "range": ["blue", "green", "orange", "purple"]}, "legend": {"title": null, "orient": "top-left", "offset": 5, "symbolType": "circle", "symbolSize": 49, "symbolStrokeWidth": 0, "symbolOpacity": 0.5, "symbolOffset": 4.75, "labelOffset": 12.75}},
          "stroke": {"field": "seg", "type": "nominal", "scale": {"domain": ["Segment 1", "Segment 2", "Segment 3", "Segment 4"], "range": ["blue", "green", "orange", "purple"]}, "legend": null}
        }
      },
      {
        "mark": {"type": "rule", "strokeOpacity": 0},
        "encoding": {"x": {"aggregate": "min", "field": "x1", "type": "quantitative", "axis": {"orient": "top", "labels": false, "ticks": false, "domain": true, "title": null}}}
      }
    ],
    "resolve": {"axis": {"x": "independent"}}
  }
]
}
